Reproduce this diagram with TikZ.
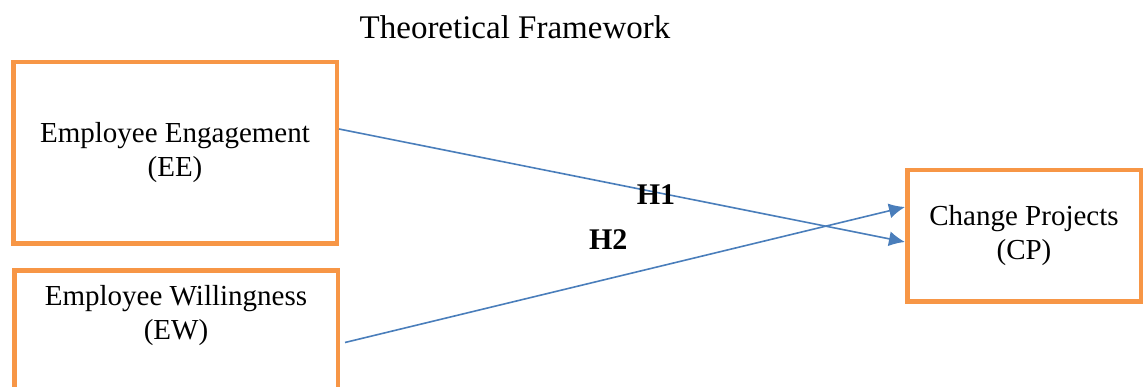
\documentclass[tikz,border=0pt]{standalone}
\usepackage{fontspec}
\setmainfont{Liberation Serif}
\usetikzlibrary{arrows.meta,positioning}
\definecolor{boxorange}{RGB}{247,150,70}
\definecolor{lineblue}{RGB}{74,126,187}
\tikzset{
    construct/.style={rectangle, draw=boxorange, line width=4.5pt, align=center, font=\fontsize{29}{34}\selectfont},
    label text/.style={align=center, font=\fontsize{29}{34}\selectfont},
    path/.style={draw=lineblue, line width=1.6pt, -{Latex[length=16pt,width=15pt]}},
    hyp/.style={inner sep=0pt, font=\fontsize{30}{34}\selectfont\bfseries}
}
\begin{document}
\begin{tikzpicture}[x=1pt, y=1pt]
  \useasboundingbox (0,0) rectangle (1144,387);

  \node[font=\fontsize{33}{40}\selectfont] (title) at (515,360) {Theoretical Framework};

  \node[construct, minimum width=323.5pt, minimum height=181.5pt] (EE) at (175,234) {Employee Engagement\\(EE)};
  \node[construct, minimum width=323.5pt, minimum height=140pt, anchor=north] (EW) at (176,118.75) {};
  \node[label text] (EWtext) at (176,71) {Employee Willingness\\(EW)};
  \node[construct, minimum width=233.5pt, minimum height=131.5pt] (CP) at (1024,151) {Change Projects\\(CP)};

  \draw[path] ([yshift=24pt]EE.east) -- node[hyp, pos=0.56, yshift=-2pt] (H1) {H1} ([yshift=-6pt]CP.west);
  \draw[path] ([xshift=5pt,yshift=-2pt]EW.east) -- node[hyp, pos=0.47, yshift=39pt] (H2) {H2} ([yshift=29pt]CP.west);
\end{tikzpicture}
\end{document}
